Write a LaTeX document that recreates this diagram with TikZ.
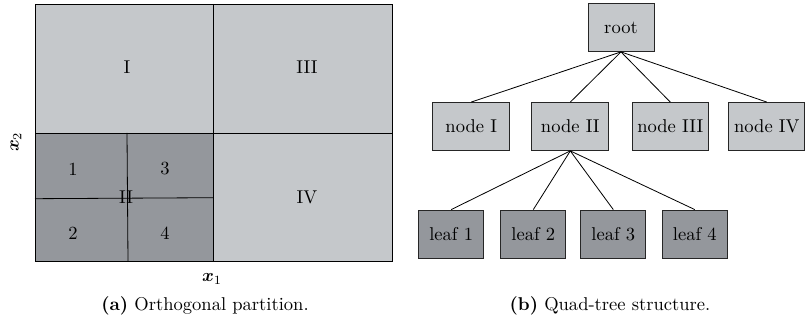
\documentclass[tikz,border=0pt]{standalone}
\usepackage{amsmath}
\usepackage{bm}
\definecolor{lightfill}{RGB}{197,200,203}
\definecolor{darkfill}{RGB}{148,151,156}
\begin{document}
\begin{tikzpicture}[x=0.5556pt,y=-0.5556pt,
  cell/.style={draw=black,line width=0.45pt},
  lbl/.style={inner sep=0pt,font=\fontsize{10.3}{12}\selectfont},
  tbox/.style={draw=black!85,line width=0.45pt,minimum height=48*0.5556pt,inner sep=0pt,font=\fontsize{10.3}{12}\selectfont},
  inner/.style={tbox,fill=lightfill},
  leafbox/.style={tbox,fill=darkfill,minimum width=65*0.5556pt},
  edge/.style={line width=0.45pt}]
\useasboundingbox (0,0) rectangle (805,321);
% partition (a)
\fill[lightfill] (35,4) rectangle (392,261);
\fill[darkfill] (35,133) rectangle (213.7,261);
\draw[cell] (35,4) rectangle (392,261);
\draw[cell] (213.7,4) -- (213.7,261);
\draw[cell] (35,133) -- (392,133);
\draw[cell] (127,133) -- (128,261);
\draw[cell] (35,198.7) -- (213.7,197.7);
\node[lbl] (lI) at (127,67) {I};
\node[lbl] (lIII) at (307,67) {III};
\node[lbl] (lIV) at (307,197) {IV};
\node[lbl] (lII) at (126,197.5) {II};
\node[lbl] (l1) at (73,169) {1};
\node[lbl] (l3) at (165,169) {3};
\node[lbl] (l2) at (73,233) {2};
\node[lbl] (l4) at (165,233) {4};
\node[lbl] (xone) at (212,279) {$\boldsymbol{x}_1$};
\node[lbl,rotate=90] (xtwo) at (16,142) {$\boldsymbol{x}_2$};
\node[lbl] (capa) at (205,306) {\textbf{(a)} Orthogonal partition.};
% tree (b)
\node[inner,minimum width=66*0.5556pt] (root) at (621,27.5) {root};
\node[inner,minimum width=77*0.5556pt] (n1) at (471.2,126.5) {node I};
\node[inner,minimum width=77*0.5556pt] (n2) at (570.3,126.5) {node II};
\node[inner,minimum width=76*0.5556pt] (n3) at (670.3,126.5) {node III};
\node[inner,minimum width=76*0.5556pt] (n4) at (766.8,126.5) {node IV};
\node[leafbox] (f1) at (451.2,234) {leaf 1};
\node[leafbox] (f2) at (533.3,234) {leaf 2};
\node[leafbox] (f3) at (613.3,234) {leaf 3};
\node[leafbox] (f4) at (694.8,234) {leaf 4};
\foreach \c in {n1,n2,n3,n4} \draw[edge] (root.south) -- (\c.north);
\foreach \c in {f1,f2,f3,f4} \draw[edge] (n2.south) -- (\c.north);
\node[lbl] (capb) at (610,306) {\textbf{(b)} Quad-tree structure.};
\end{tikzpicture}
\end{document}
